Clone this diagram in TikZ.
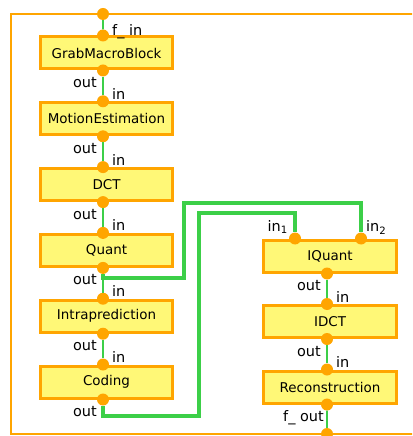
\documentclass[tikz,border=0pt]{standalone}
\usepackage{fontspec}
\setmainfont{DejaVu Sans}
\usetikzlibrary{positioning}
\definecolor{boxfill}{HTML}{FFF877}
\definecolor{portorange}{HTML}{FFA500}
\definecolor{wiregreen}{HTML}{3CCF48}

\begin{document}
\begin{tikzpicture}[x=1bp, y=-1bp,
    blk/.style={draw=portorange, fill=boxfill, line width=3bp,
        minimum width=132bp, minimum height=32bp, inner sep=0pt,
        font=\fontsize{13.5}{15}\selectfont},
    port/.style={circle, fill=portorange, minimum size=12bp, inner sep=0pt},
    lbl/.style={font=\fontsize{14.5}{16}\selectfont, inner sep=1bp},
    wire/.style={wiregreen, line width=1.6bp},
    bus/.style={wiregreen, line width=3.5bp}]
    \useasboundingbox (0,0) rectangle (412,436);
    \clip (0,0) rectangle (412,436);
    % outer frame
    \draw[portorange, line width=2.7bp] (420,14) -- (11,14) -- (11,434) -- (420,434);
    \node[port] (fin) at (103,14) {};
    \node[port] (fout) at (327,434) {};
    % left column
    \node[blk] (grab) at (106.5,53) {GrabMacroBlock};
    \node[blk, below of=grab, node distance=65.8bp] (motion) {MotionEstimation};
    \node[blk, below of=motion, node distance=65.8bp] (dct) {DCT};
    \node[blk, below of=dct, node distance=65.8bp] (quant) {Quant};
    \node[blk, below of=quant, node distance=65.8bp] (intra) {Intraprediction};
    \node[blk, below of=intra, node distance=65.8bp] (coding) {Coding};
    % right column
    \node[blk, minimum width=133bp] (iquant) at (330,256) {IQuant};
    \node[blk, minimum width=133bp, below of=iquant, node distance=65.5bp] (idct) {IDCT};
    \node[blk, minimum width=133bp, below of=idct, node distance=65.5bp] (recon) {Reconstruction};
    % ports
    \foreach \b in {grab,motion,dct,quant,intra,coding} {
        \node[port] (\b-in) at ([xshift=-3.5bp]\b.north) {};
        \node[port] (\b-out) at ([xshift=-3.5bp]\b.south) {};
    }
    \node[port] (iquant-in1) at ([xshift=-35bp]iquant.north) {};
    \node[port] (iquant-in2) at ([xshift=31bp]iquant.north) {};
    \node[port] (iquant-out) at ([xshift=-3bp]iquant.south) {};
    \node[port] (idct-in) at ([xshift=-3bp]idct.north) {};
    \node[port] (idct-out) at ([xshift=-3bp]idct.south) {};
    \node[port] (recon-in) at ([xshift=-3bp]recon.north) {};
    \node[port] (recon-out) at ([xshift=-3bp]recon.south) {};
    % labels
    \node[lbl, anchor=base west] at ([xshift=8bp]grab-in.center) {f\_ in};
    \foreach \b in {motion,dct,quant,intra,coding}
        \node[lbl, anchor=base west] at ([xshift=8bp, yshift=2bp]\b-in.center) {in};
    \foreach \b in {grab,motion,dct,quant,intra,coding}
        \node[lbl, anchor=base east] at ([xshift=-5bp, yshift=-17bp]\b-out.center) {out};
    \node[lbl, anchor=base east] at ([xshift=-6bp, yshift=7bp]iquant-in1.center) {in\textsubscript{1}};
    \node[lbl, anchor=base west] at ([xshift=4bp, yshift=7bp]iquant-in2.center) {in\textsubscript{2}};
    \node[lbl, anchor=base east] at ([xshift=-5bp, yshift=-17bp]iquant-out.center) {out};
    \node[lbl, anchor=base west] at ([xshift=8bp, yshift=2bp]idct-in.center) {in};
    \node[lbl, anchor=base east] at ([xshift=-5bp, yshift=-17bp]idct-out.center) {out};
    \node[lbl, anchor=base west] at ([xshift=8bp, yshift=2bp]recon-in.center) {in};
    \node[lbl, anchor=base east] at ([xshift=-2bp, yshift=-17bp]recon-out.center) {f\_ out};
    % connections
    \draw[wire] (fin) -- (grab-in);
    \draw[wire] (grab-out) -- (motion-in);
    \draw[wire] (motion-out) -- (dct-in);
    \draw[wire] (dct-out) -- (quant-in);
    \draw[wire] (quant-out) -- (intra-in);
    \draw[wire] (intra-out) -- (coding-in);
    \draw[wire] (iquant-out) -- (idct-in);
    \draw[wire] (idct-out) -- (recon-in);
    \draw[wire] (recon-out) -- (fout);
    \draw[bus] (quant-out) |- (184,278) -- (184,203) -| (iquant-in2);
    \draw[bus] (coding-out) |- (199,416) -- (199,213) -| (iquant-in1);
\end{tikzpicture}
\end{document}
